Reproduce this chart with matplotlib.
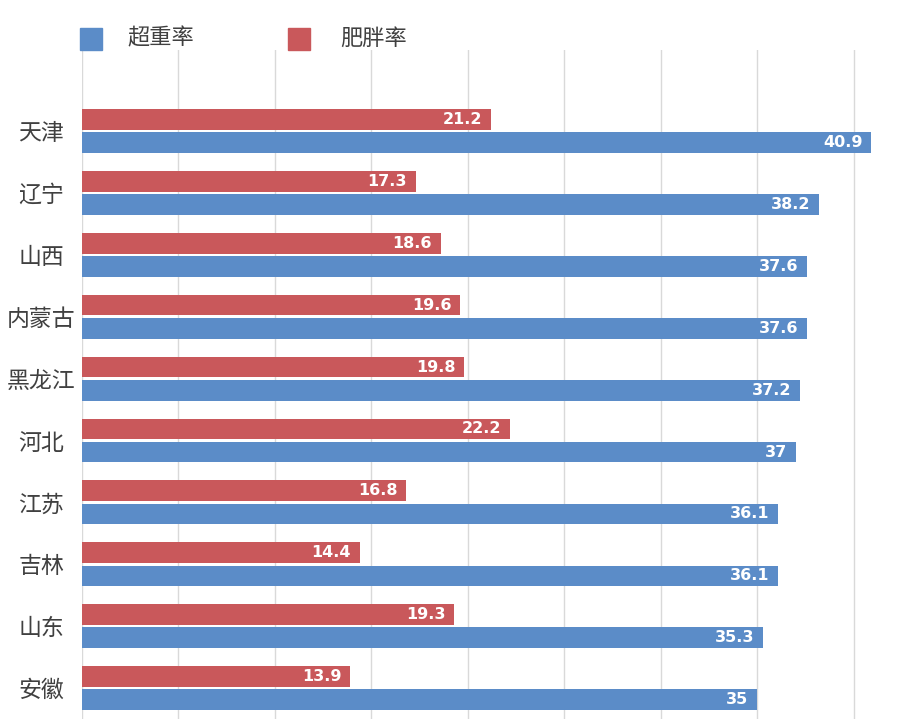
import numpy as np
import matplotlib.pyplot as plt

plt.rcParams['font.family'] = ['Noto Sans CJK SC', 'DejaVu Sans']

# Data
provinces = ["天津", "辽宁", "山西", "内蒙古", "黑龙江", "河北", "江苏", "吉林", "山东", "安徽"]
overweight = [40.9, 38.2, 37.6, 37.6, 37.2, 37, 36.1, 36.1, 35.3, 35]
obesity = [21.2, 17.3, 18.6, 19.6, 19.8, 22.2, 16.8, 14.4, 19.3, 13.9]
series_names = ["超重率", "肥胖率"]

blue = "#5b8cc8"
red = "#c9585b"


def main():
    fig = plt.figure(figsize=(9, 7.19), dpi=100)
    ax = fig.add_axes([82 / 900, 0, 1 - 82 / 900, 1 - 50 / 719])

    y = np.arange(len(provinces))
    h = 0.335
    gap = 0.02
    bars_red = ax.barh(y - h / 2 - gap, obesity, height=h, color=red, zorder=3)
    bars_blue = ax.barh(y + h / 2 + gap, overweight, height=h, color=blue, zorder=3)

    # value labels inside the bar ends
    for bars, vals in ((bars_red, obesity), (bars_blue, overweight)):
        for b, v in zip(bars, vals):
            ax.text(b.get_width() - 0.45, b.get_y() + b.get_height() / 2, f"{v:g}",
                    ha="right", va="center", color="white", fontsize=11.5,
                    fontweight="bold", family=["DejaVu Sans"], zorder=4)

    ax.set_xlim(0, 42.4)
    ax.set_ylim(9.5, -1.31)
    ax.set_xticks(np.arange(0, 45, 5))
    ax.xaxis.grid(True, color="#d9d9d9", linewidth=1, zorder=0)
    ax.tick_params(axis="x", length=0, labelbottom=False)
    # category names centred in the left gutter
    ax.tick_params(axis="y", length=0, pad=29.5)
    ax.set_yticks(y)
    ax.set_yticklabels(provinces, fontsize=16.5, color="#404040", ha="center")
    for s in ax.spines.values():
        s.set_visible(False)

    # legend above the plot
    fig.patches.append(plt.Rectangle((80 / 900, 1 - 50 / 719), 22 / 900, 22 / 719,
                                     transform=fig.transFigure, color=blue))
    fig.text(127 / 900, 1 - 38 / 719, series_names[0], fontsize=16, color="#404040", va="center")
    fig.patches.append(plt.Rectangle((288 / 900, 1 - 50 / 719), 22 / 900, 22 / 719,
                                     transform=fig.transFigure, color=red))
    fig.text(340 / 900, 1 - 38 / 719, series_names[1], fontsize=16, color="#404040", va="center")

    fig.savefig("out.png", dpi=100)


if __name__ == "__main__":
    main()
